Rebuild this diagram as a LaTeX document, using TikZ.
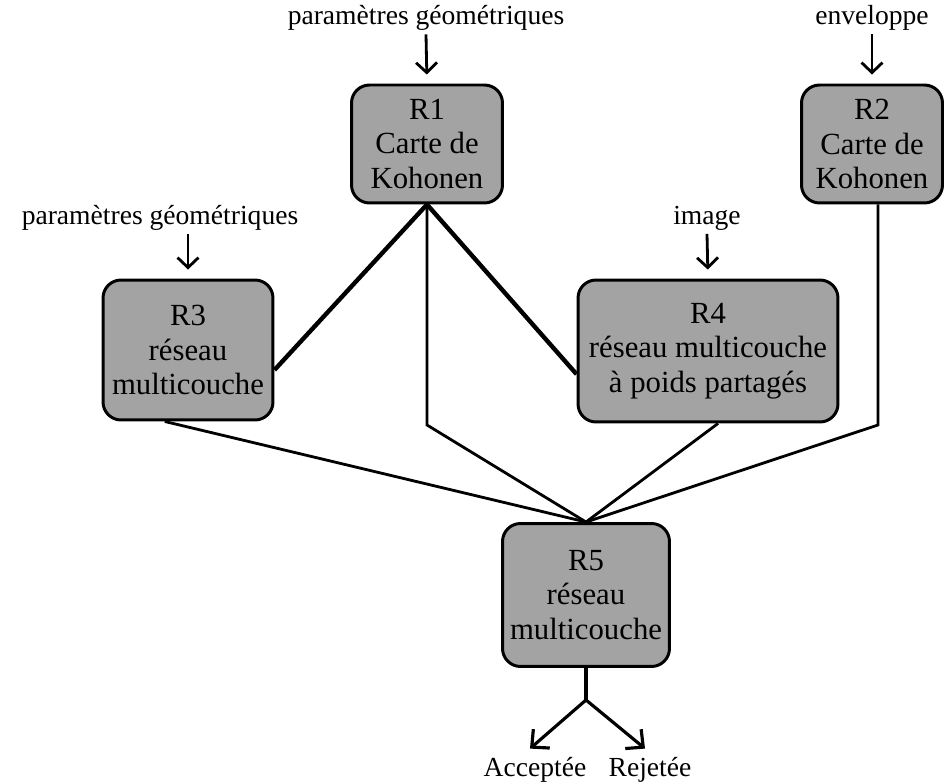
\documentclass[tikz,border=0pt]{standalone}
\usepackage{fontspec}
\setmainfont{Liberation Serif}
\usetikzlibrary{arrows.meta}
\tikzset{
    reseau/.style={draw=black, line width=1.7pt, fill=black!36, rounded corners=0.36cm,
        align=center, inner sep=0pt, font=\fontsize{17.5}{19.5}\selectfont},
    entree/.style={inner sep=2pt, font=\fontsize{15.7}{18}\selectfont},
    lien/.style={line width=1.6pt},
    lienfort/.style={line width=2.5pt},
    fleche/.style={line width=1.6pt, -{Straight Barb[length=0.2cm,width=0.42cm]}, shorten >=0.18cm},
    sortie/.style={line width=1.8pt, -{Straight Barb[length=0.26cm,width=0.5cm]}},
}

\begin{document}
\begin{tikzpicture}[x=0.02cm, y=-0.02cm]
    \useasboundingbox (0,0) rectangle (947,783);

    %les reseaux
    \node [reseau, minimum width=3.02cm, minimum height=2.36cm] (r1) at (427,144) {R1\\Carte de\\Kohonen};
    \node [reseau, minimum width=2.82cm, minimum height=2.36cm] (r2) at (872,144) {R2\\Carte de\\Kohonen};
    \node [reseau, minimum width=3.4cm, minimum height=2.8cm] (r3) at (188,350) {R3\\r\'eseau\\multicouche};
    \node [reseau, minimum width=5.2cm, minimum height=2.84cm] (r4) at (708,351) {R4\\r\'eseau multicouche\\\`a poids partag\'es};
    \node [reseau, minimum width=3.34cm, minimum height=2.86cm] (r5) at (586,595) {R5\\r\'eseau\\multicouche};

    %les entrees
    \node [entree] (e1) at (426,18) {paramètres géométriques};
    \draw [fleche] (e1.south) -- (r1.north);

    \node [entree] (e2) at (872,18) {enveloppe};
    \draw [fleche] (e2.south) -- (r2.north);

    \node [entree] (e3) at (160,218) {paramètres géométriques};
    \draw [fleche] (r3.north |- e3.south) -- (r3.north);

    \node [entree] (e4) at (707,218) {image};
    \draw [fleche] (e4.south) -- (r4.north);

    %liaisons de R1
    \draw [lienfort] (r1.south) -- (r3.-13);
    \draw [lienfort] (r1.south) -- (r4.190);
    \coordinate (k1) at (427,425);
    \draw [lien] (r1.south) -- (k1) -- (r5.north);

    %liaisons vers R5
    \draw [lien] (r3.-108) -- (r5.north);
    \draw [lien] ([xshift=0.2cm]r4.south) -- (r5.north);
    \coordinate (k2) at (878,425);
    \draw [lien] (r2.south -| k2) -- (k2) -- (r5.north);

    %les sorties
    \coordinate (split) at (586,700);
    \draw [lien, line width=1.8pt] (r5.south) -- (split);
    \node [entree] (acc) at (535,770) {Acceptée};
    \node [entree] (rej) at (650,770) {Rejetée};
    \draw [sortie] (split) -- ([xshift=-0.1cm, yshift=0.1cm]acc.north);
    \draw [sortie] (split) -- ([xshift=-0.1cm, yshift=0.1cm]rej.north);

\end{tikzpicture}
\end{document}
